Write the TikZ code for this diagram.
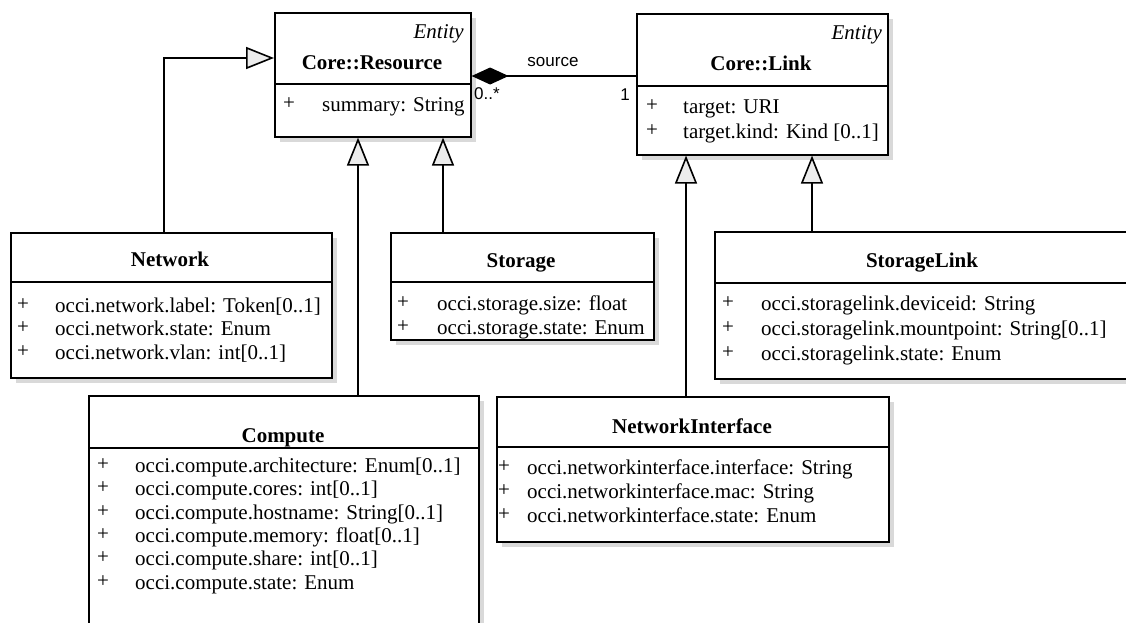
\documentclass[tikz,border=0pt]{standalone}
\usepackage{fontspec}
\setmainfont{Liberation Serif}
\newfontfamily\labelfont{Liberation Sans}
\usetikzlibrary{arrows.meta,shadows}
\begin{document}
\begin{tikzpicture}[x=1pt,y=-1pt,
  cls/.style={draw, line width=1.6pt, fill=white, anchor=north west, inner sep=0pt,
    drop shadow={shadow xshift=5pt, shadow yshift=-5pt, fill=gray!30, opacity=1}},
  sepline/.style={line width=1.6pt},
  title/.style={font=\fontsize{21}{24}\selectfont\bfseries, inner sep=0pt, text height=14pt, text depth=0pt},
  stereo/.style={font=\fontsize{21}{24}\selectfont\itshape, inner sep=0pt, anchor=east, text height=14pt, text depth=0pt},
  attr/.style={font=\fontsize{21}{24}\selectfont, inner sep=0pt, anchor=west, text height=15pt, text depth=0pt},
  plus/.style={font=\fontsize{21}{24}\selectfont, inner sep=0pt, anchor=center},
  gen/.style={line width=1.6pt, -{Triangle[length=28pt,width=22pt,fill=gray!15]}},
  comp/.style={line width=1.6pt, {Diamond[length=37pt,width=17pt]}-},
  lbl/.style={font=\labelfont\fontsize{17}{20}\selectfont, inner sep=0pt}
]
\useasboundingbox (0,0) rectangle (1126,622);
\clip (0,0) rectangle (1126,622);

% ---------- class boxes ----------
\node[cls, minimum width=196pt, minimum height=124pt] (resource) at (274,12) {};
\node[cls, minimum width=251pt, minimum height=141pt] (link) at (636,13) {};
\node[cls, minimum width=321pt, minimum height=145pt] (network) at (10,232) {};
\node[cls, minimum width=263pt, minimum height=107pt] (storage) at (390,232) {};
\node[cls, minimum width=416pt, minimum height=147pt] (storagelink) at (714,231) {};
\node[cls, minimum width=390pt, minimum height=260pt] (compute) at (88,395) {};
\node[cls, minimum width=392pt, minimum height=145pt] (netif) at (496,396) {};

% separators
\draw[sepline] (274,84) -- (470,84);
\draw[sepline] (636,86) -- (887,86);
\draw[sepline] (10,282) -- (331,282);
\draw[sepline] (390,282) -- (653,282);
\draw[sepline] (714,283) -- (1130,283);
\draw[sepline] (88,448) -- (478,448);
\draw[sepline] (496,447) -- (888,447);

% ---------- Core::Resource ----------
\node[stereo] (resst) at (464,31) {Entity};
\node[title] (restitle) at (372,62) {Core::Resource};
\node[plus] (resp1) at (289,104) {+};
\node[attr] (resa1) at (322,104) {summary: String};

% ---------- Core::Link ----------
\node[stereo] (linkst) at (882,32) {Entity};
\node[title] (linktitle) at (761,63) {Core::Link};
\node[plus] (linkp1) at (652,106) {+};
\node[attr] (linka1) at (683,106) {target: URI};
\node[plus] (linkp2) at (652,131) {+};
\node[attr] (linka2) at (683,131) {target.kind: Kind [0..1]};

% ---------- Network ----------
\node[title] (nettitle) at (170,259) {Network};
\node[plus] (netp1) at (23,305) {+};
\node[attr] (neta1) at (55,305) {occi.network.label: Token[0..1]};
\node[plus] (netp2) at (23,328) {+};
\node[attr] (neta2) at (55,328) {occi.network.state: Enum};
\node[plus] (netp3) at (23,352) {+};
\node[attr] (neta3) at (55,352) {occi.network.vlan: int[0..1]};

% ---------- Storage ----------
\node[title] (sttitle) at (521,260) {Storage};
\node[plus] (stp1) at (403,303) {+};
\node[attr] (sta1) at (437,303) {occi.storage.size: float};
\node[plus] (stp2) at (403,327) {+};
\node[attr] (sta2) at (437,327) {occi.storage.state: Enum};

% ---------- StorageLink ----------
\node[title] (sltitle) at (922,260) {StorageLink};
\node[plus] (slp1) at (728,303) {+};
\node[attr] (sla1) at (761,303) {occi.storagelink.deviceid: String};
\node[plus] (slp2) at (728,328) {+};
\node[attr] (sla2) at (761,328) {occi.storagelink.mountpoint: String[0..1]};
\node[plus] (slp3) at (728,353) {+};
\node[attr] (sla3) at (761,353) {occi.storagelink.state: Enum};

% ---------- Compute ----------
\node[title] (comptitle) at (283,435) {Compute};
\node[plus] (cp1) at (103,465) {+};
\node[attr] (ca1) at (135,465) {occi.compute.architecture: Enum[0..1]};
\node[plus] (cp2) at (103,488) {+};
\node[attr] (ca2) at (135,488) {occi.compute.cores: int[0..1]};
\node[plus] (cp3) at (103,512) {+};
\node[attr] (ca3) at (135,512) {occi.compute.hostname: String[0..1]};
\node[plus] (cp4) at (103,535) {+};
\node[attr] (ca4) at (135,535) {occi.compute.memory: float[0..1]};
\node[plus] (cp5) at (103,558) {+};
\node[attr] (ca5) at (135,558) {occi.compute.share: int[0..1]};
\node[plus] (cp6) at (103,582) {+};
\node[attr] (ca6) at (135,582) {occi.compute.state: Enum};

% ---------- NetworkInterface ----------
\node[title] (nititle) at (692,426) {NetworkInterface};
\node[plus] (nip1) at (504,467) {+};
\node[attr] (nia1) at (527,467) {occi.networkinterface.interface: String};
\node[plus] (nip2) at (504,491) {+};
\node[attr] (nia2) at (527,491) {occi.networkinterface.mac: String};
\node[plus] (nip3) at (504,515) {+};
\node[attr] (nia3) at (527,515) {occi.networkinterface.state: Enum};

% ---------- connectors ----------
\coordinate (netbend) at (164,58);
\coordinate (cx) at (358,0);
\coordinate (sx) at (443,0);
\coordinate (nix) at (686,0);
\coordinate (slx) at (812,0);
\coordinate (cy) at (0,76);

\draw[gen] (network.north -| netbend) |- (resource.west |- netbend);
\draw[gen] (compute.north -| cx) -- (resource.south -| cx);
\draw[gen] (storage.north -| sx) -- (resource.south -| sx);
\draw[gen] (netif.north -| nix) -- (link.south -| nix);
\draw[gen] (storagelink.north -| slx) -- (link.south -| slx);
\draw[comp] (resource.east |- cy) -- (link.west |- cy);

\node[lbl] (src) at (553,62) {source};
\node[lbl] (m0) at (487,94) {0..*};
\node[lbl] (m1) at (625,95) {1};
\end{tikzpicture}
\end{document}
